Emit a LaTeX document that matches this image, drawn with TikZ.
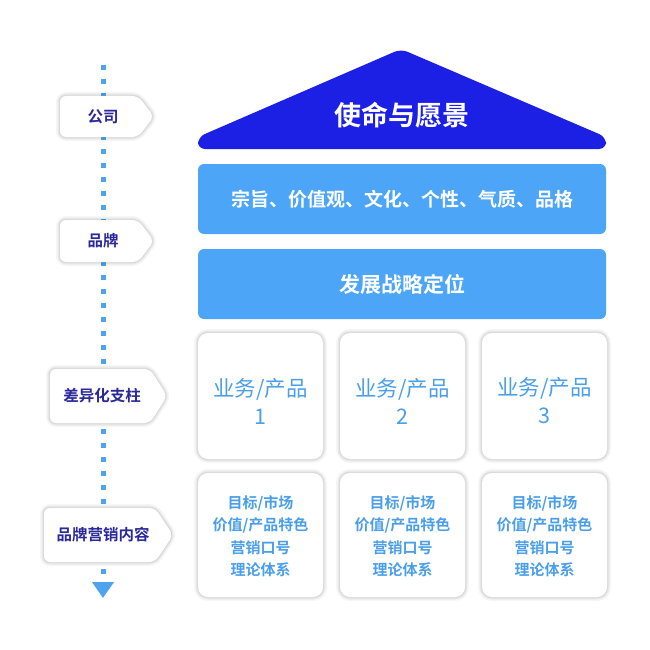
\documentclass[tikz,border=0pt]{standalone}
\usepackage{fontspec}
\setmainfont{Noto Sans CJK SC}[BoldFont={Noto Sans CJK SC Bold}]
\usetikzlibrary{arrows.meta}
\definecolor{roofblue}{HTML}{1C1FE4}
\definecolor{bandblue}{HTML}{4DA5F7}
\definecolor{boxtext}{HTML}{4A9FE8}
\definecolor{tagtext}{HTML}{2B2999}
\definecolor{dotblue}{HTML}{4DA3F0}
\begin{document}
\begin{tikzpicture}[x=1pt,y=-1pt,
  softshadow/.style={
    preaction={draw=black, draw opacity=0.035, line width=8pt},
    preaction={draw=black, draw opacity=0.05, line width=5pt},
    preaction={draw=black, draw opacity=0.06, line width=2.5pt}},
  tagshape/.style={fill=white, rounded corners=6pt, softshadow},
  tagtxt/.style={inner sep=0pt, text=tagtext, font=\fontsize{15.5}{18}\selectfont\bfseries},
  band/.style={fill=bandblue, rounded corners=6pt, minimum width=408pt, minimum height=70pt,
    text=white, font=\bfseries, inner sep=0pt},
  card/.style={fill=white, rounded corners=10pt, softshadow, minimum width=125pt, inner sep=0pt},
  cardtxt/.style={text=boxtext, align=center, inner sep=0pt},
  toptxt/.style={cardtxt, font=\fontsize{21.5}{28}\selectfont},
  bottxt/.style={cardtxt, font=\fontsize{15}{22.5}\selectfont\bfseries},
  dotline/.style={draw=dotblue, line width=5pt, dash pattern=on 5pt off 9pt,
    -{Triangle[width=21pt,length=16pt]}}
]
\useasboundingbox (0,0) rectangle (650,650);
\fill[white] (0,0) rectangle (650,650);

% dotted axis
\coordinate (axtop) at (103,65);
\coordinate (axbot) at (103,598);
\draw[dotline] (axtop) -- (axbot);

% roof
\fill[roofblue, rounded corners=7pt] (198,149) -- (198,137) -- (401,49) -- (606,137) -- (606,149) -- cycle;
\node[text=white, inner sep=0pt, font=\fontsize{27}{30}\selectfont\bfseries] (roof) at (402,115) {使命与愿景};

% bands
\node[band, font=\fontsize{19}{22}\selectfont\bfseries] (b1) at (402,199) {宗旨、价值观、文化、个性、气质、品格};
\node[band, font=\fontsize{21}{24}\selectfont\bfseries] (b2) at (402,284) {发展战略定位};

% cards
\node[card, minimum height=126pt] (p1) at (260.5,396) {};
\node[card, minimum height=126pt] (p2) at (402.5,396) {};
\node[card, minimum height=126pt] (p3) at (544.5,396) {};
\node[card, minimum height=124pt] (m1) at (260.5,535) {};
\node[card, minimum height=124pt] (m2) at (402.5,535) {};
\node[card, minimum height=124pt] (m3) at (544.5,535) {};
\node[toptxt] (p1t) at (260.5,401) {业务/产品\\1};
\node[toptxt] (p2t) at (402.5,401) {业务/产品\\2};
\node[toptxt] (p3t) at (544.5,401) {业务/产品\\3};
\node[bottxt] (m1t) at (260.5,536) {目标/市场\\价值/产品特色\\营销口号\\理论体系};
\node[bottxt] (m2t) at (402.5,536) {目标/市场\\价值/产品特色\\营销口号\\理论体系};
\node[bottxt] (m3t) at (544.5,536) {目标/市场\\价值/产品特色\\营销口号\\理论体系};

% tags
\path[tagshape] (60,96) -- (138,96) -- (154,116.5) -- (138,137) -- (60,137) -- cycle;
\node[tagtxt] (t1) at (103,116.5) {公司};
\path[tagshape] (60,220) -- (138,220) -- (154,241) -- (138,262) -- (60,262) -- cycle;
\node[tagtxt] (t2) at (103,241) {品牌};
\path[tagshape] (50,369) -- (150,369) -- (167,396) -- (150,423) -- (50,423) -- cycle;
\node[tagtxt] (t3) at (102,396) {差异化支柱};
\path[tagshape] (44,508) -- (155,508) -- (173,535) -- (155,562) -- (44,562) -- cycle;
\node[tagtxt] (t4) at (103,535) {品牌营销内容};
\end{tikzpicture}
\end{document}
